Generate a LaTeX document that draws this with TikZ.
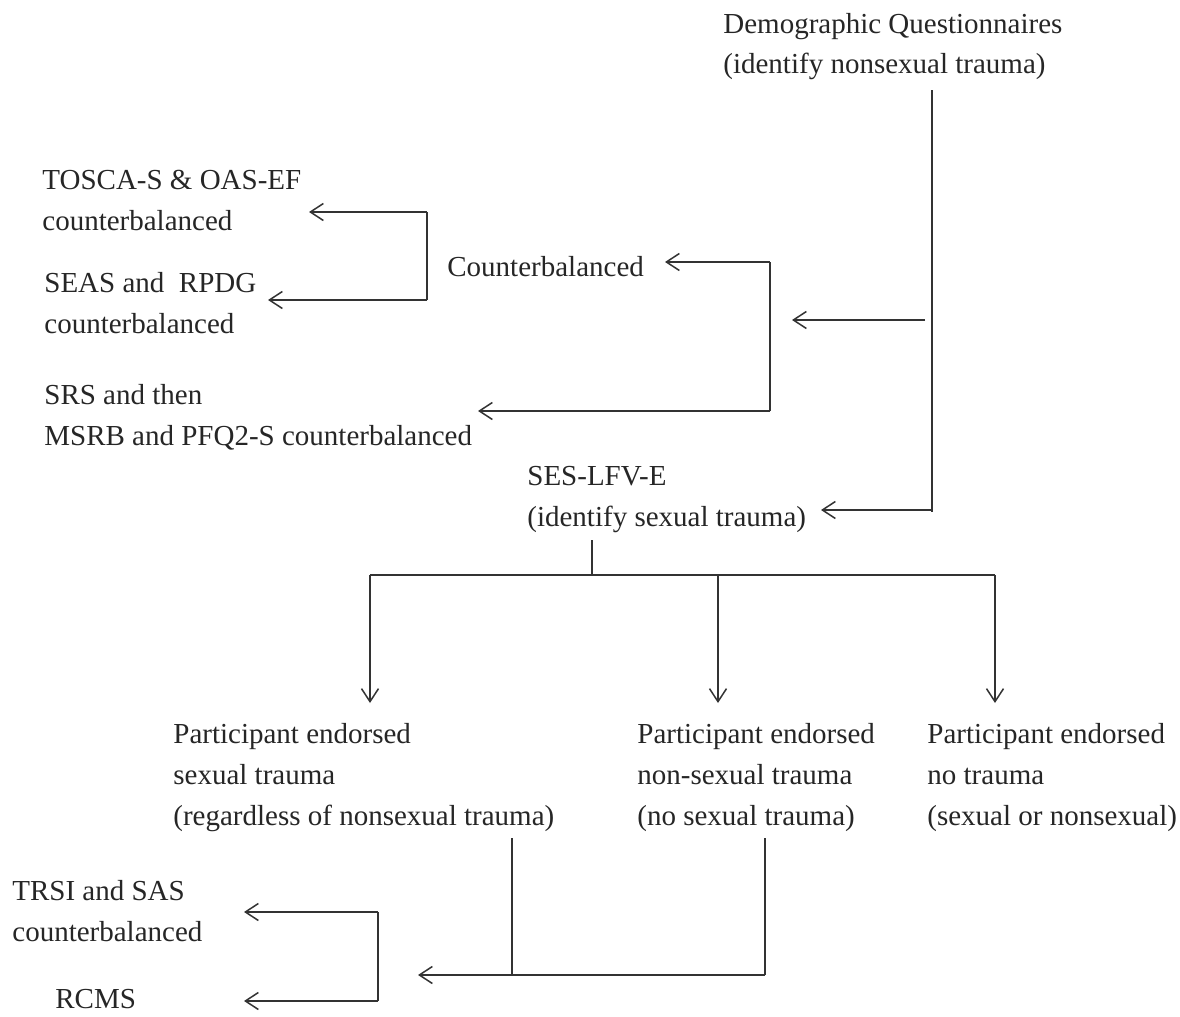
\documentclass[tikz,border=0pt]{standalone}
\usepackage{fontspec}
\setmainfont{Liberation Serif}
\usetikzlibrary{arrows.meta}
\begin{document}
\begin{tikzpicture}[x=0.5pt,y=-0.5pt,
  txt/.style={anchor=base west,inner sep=0pt,align=left,font=\fontsize{14.5}{20.5}\selectfont,text=black!85},
  ln/.style={line width=0.75pt,draw=black!80},
  arr/.style={ln,-{Straight Barb[length=6.5pt,width=8.5pt,line width=0.75pt]}}]
\useasboundingbox[fill=white] (0,0) rectangle (1180,1017);
% text nodes (anchored at the baseline of their last line)
\node[txt] (demo) at (723,74) {Demographic Questionnaires\\(identify nonsexual trauma)};
\node[txt] (tosca) at (42,230) {TOSCA-S \& OAS-EF\\counterbalanced};
\node[txt] (seas) at (44,333) {SEAS and\ \ RPDG\\counterbalanced};
\node[txt] (srs) at (44,445) {SRS and then\\MSRB and PFQ2-S counterbalanced};
\node[txt] (cb) at (447,276) {Counterbalanced};
\node[txt] (ses) at (527,526) {SES-LFV-E\\(identify sexual trauma)};
\node[txt] (p1) at (173,825) {Participant endorsed\\sexual trauma\\(regardless of nonsexual trauma)};
\node[txt] (p2) at (637,825) {Participant endorsed\\non-sexual trauma\\(no sexual trauma)};
\node[txt] (p3) at (927,825) {Participant endorsed\\no trauma\\(sexual or nonsexual)};
\node[txt] (trsi) at (12,941) {TRSI and SAS\\counterbalanced};
\node[txt] (rcms) at (55,1008) {RCMS};
% coordinates
\coordinate (dtop) at (932,90);
\coordinate (dbot) at (932,512);
\coordinate (dmid) at (925,320);
\coordinate (tmid) at (792,320);
\coordinate (sesin) at (821,510);
\coordinate (b1t) at (770,262);
\coordinate (b1b) at (770,411);
\coordinate (cbin) at (665,262);
\coordinate (srsin) at (478,411);
\coordinate (b2t) at (427,212);
\coordinate (b2b) at (427,300);
\coordinate (toscain) at (309,212);
\coordinate (seasin) at (268,300);
\coordinate (sesout) at (592,540);
\coordinate (bus) at (592,575);
\coordinate (busl) at (370,575);
\coordinate (busm) at (718,575);
\coordinate (busr) at (995,575);
\coordinate (p1in) at (370,703);
\coordinate (p2in) at (718,703);
\coordinate (p3in) at (995,703);
\coordinate (p1out) at (512,838);
\coordinate (p2out) at (765,838);
\coordinate (j1) at (512,975);
\coordinate (j2) at (765,975);
\coordinate (midin) at (418,975);
\coordinate (b3t) at (378,912);
\coordinate (b3b) at (378,1001);
\coordinate (trsiin) at (244,912);
\coordinate (rcmsin) at (244,1001);
% connectors
\draw[ln] (dtop) -- (dbot);
\draw[arr] (dmid) -- (tmid);
\draw[arr] (dbot |- sesin) -- (sesin);
\draw[ln] (b1t) -- (b1b);
\draw[arr] (b1t) -- (cbin);
\draw[arr] (b1b) -- (srsin);
\draw[ln] (b2t) -- (b2b);
\draw[arr] (b2t) -- (toscain);
\draw[arr] (b2b) -- (seasin);
\draw[ln] (sesout) -- (bus);
\draw[ln] (busl) -- (busr);
\draw[arr] (busl) -- (p1in);
\draw[arr] (busm) -- (p2in);
\draw[arr] (busr) -- (p3in);
\draw[ln] (p1out) -- (j1);
\draw[ln] (p2out) -- (j2);
\draw[arr] (j2) -- (midin);
\draw[ln] (b3t) -- (b3b);
\draw[arr] (b3t) -- (trsiin);
\draw[arr] (b3b) -- (rcmsin);
\end{tikzpicture}
\end{document}
